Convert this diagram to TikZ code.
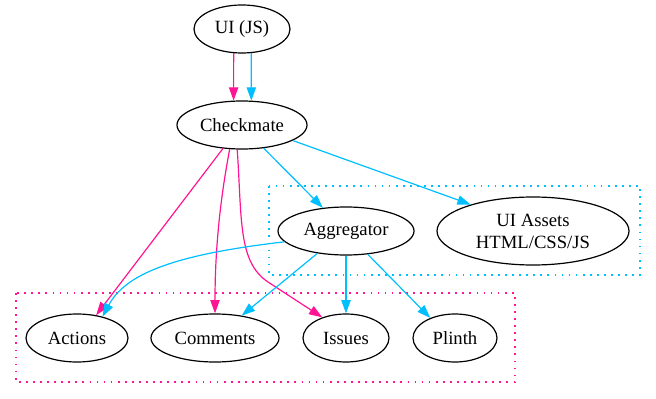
\documentclass[tikz,border=0pt]{standalone}
\usepackage{fontspec}
\setmainfont{Liberation Serif}
\usetikzlibrary{shapes.geometric, arrows.meta}
\definecolor{linkpink}{HTML}{FF1493}
\definecolor{linkblue}{HTML}{00BFFF}

\begin{document}
\begin{tikzpicture}[
  x=0.75pt, y=-0.75pt,
  comp/.style={ellipse, draw=black, line width=0.9pt, inner sep=0pt, minimum height=36pt, align=center, font=\fontsize{14}{16.5}\selectfont},
  pinkarrow/.style={-{Triangle[length=10pt, width=7pt]}, draw=linkpink, line width=0.9pt},
  bluearrow/.style={-{Triangle[length=10pt, width=7pt]}, draw=linkblue, line width=0.9pt},
  pinkgroup/.style={draw=linkpink, line width=1pt, dash pattern=on 1.3pt off 4pt},
  bluegroup/.style={draw=linkblue, line width=1pt, dash pattern=on 1.3pt off 4pt}
]
  \useasboundingbox (0,0) rectangle (656,399);

  \draw[pinkgroup] (16,293) rectangle (515,382);
  \draw[bluegroup] (269,186) rectangle (640,275);

  \node[comp, minimum width=72pt] (uijs) at (242,29) {UI (JS)};
  \node[comp, minimum width=97.5pt] (checkmate) at (242,125) {Checkmate};
  \node[comp, minimum width=102pt] (aggregator) at (346,231) {Aggregator};
  \node[comp, minimum width=144pt, minimum height=51pt] (uiassets) at (533,231) {UI Assets\\HTML/CSS/JS};

  \node[comp, minimum width=76.5pt] (actions) at (77,338) {Actions};
  \node[comp, minimum width=96pt] (comments) at (215,338) {Comments};
  \node[comp, minimum width=64.5pt] (issues) at (346,338) {Issues};
  \node[comp, minimum width=63pt] (plinth) at (455,338) {Plinth};

  \draw[pinkarrow] (uijs.251) -- (checkmate.109);
  \draw[bluearrow] (uijs.291) -- (checkmate.69);

  \draw[pinkarrow] (checkmate.231) -- (actions.50);
  \draw[pinkarrow] (checkmate.243) .. controls (220,200) and (215,250) .. (comments.north);
  \draw[pinkarrow] (checkmate.259) .. controls (242,220) and (238,262) .. (268,282) -- (issues.139);
  \draw[bluearrow] (checkmate.313) -- (aggregator.135);
  \draw[bluearrow] (checkmate.343) -- (uiassets.157);

  \draw[bluearrow] (aggregator.190) .. controls (170,255) and (125,275) .. (actions.40);
  \draw[bluearrow] (aggregator.218) -- (comments.40);
  \draw[bluearrow] (aggregator.south) -- (issues.north);
  \draw[bluearrow] (aggregator.313) -- (plinth.141);
\end{tikzpicture}
\end{document}
